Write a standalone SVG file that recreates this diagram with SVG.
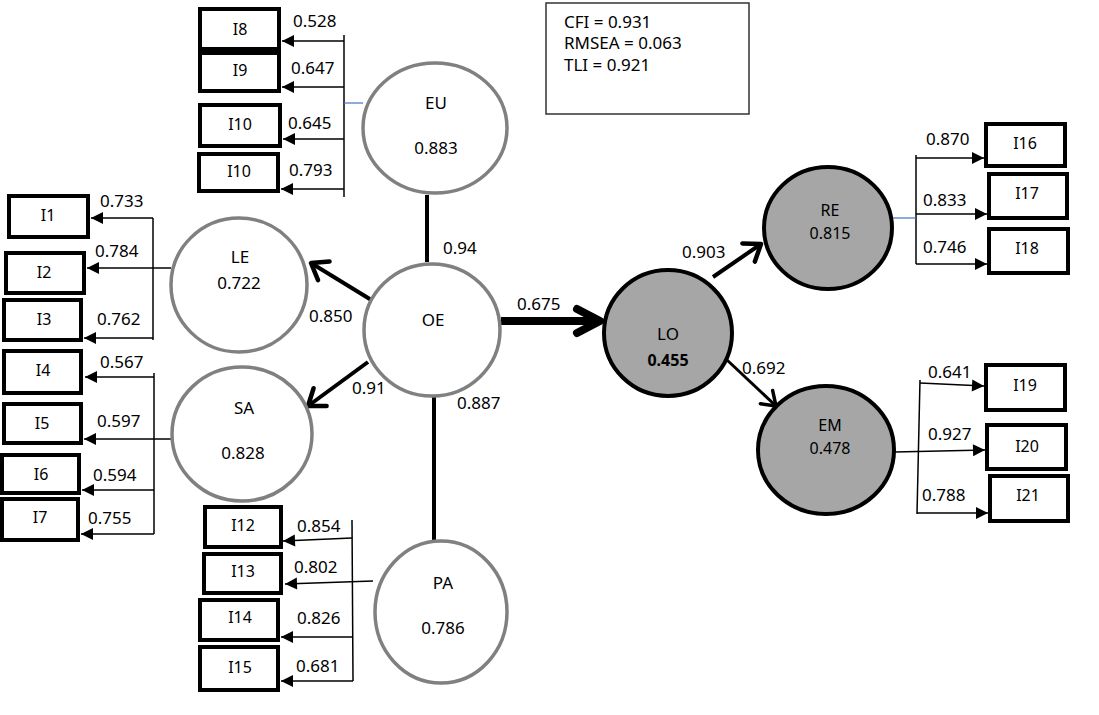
<svg xmlns="http://www.w3.org/2000/svg" width="1099" height="715" viewBox="0 0 1099 715">
<style>
text{font-family:"Noto Sans","Liberation Sans",sans-serif;fill:#000}
.lat{fill:#fff;stroke:#808080;stroke-width:3.5}
.end{fill:#a6a6a6;stroke:#000;stroke-width:4}
.ind{fill:#fff;stroke:#000;stroke-width:4}
.nl{font-size:17px;text-anchor:middle}
.ns{font-size:16px;text-anchor:middle}
.il{font-size:16px;text-anchor:middle}
.el{font-size:17px}
.fit{font-size:17px}
.ld{stroke:#000;stroke-width:1.5;fill:none;marker-end:url(#tri)}
.br{stroke:#000;stroke-width:1.5;fill:none}
.bl{stroke:#4472c4;stroke-width:1.2}
.st{stroke:#000;stroke-width:4;fill:none}
</style>
<defs>
<marker id="tri" markerUnits="userSpaceOnUse" markerWidth="13" markerHeight="12" refX="12" refY="6" orient="auto" overflow="visible">
<path d="M0,0 L12,6 L0,12 z" fill="#000"/>
</marker>
<marker id="chev" markerUnits="userSpaceOnUse" markerWidth="20" markerHeight="24" refX="0" refY="0" orient="auto" overflow="visible" viewBox="-20 -12 20 24">
<path d="M-15,-11 L0,0 L-15,11" fill="none" stroke="#000" stroke-width="4.5" stroke-linecap="round" stroke-linejoin="round"/>
</marker>
<marker id="chevS" markerUnits="userSpaceOnUse" markerWidth="20" markerHeight="24" refX="0" refY="0" orient="auto" overflow="visible" viewBox="-20 -12 20 24">
<path d="M-13,-9 L0,0 L-13,9" fill="none" stroke="#000" stroke-width="3.5" stroke-linecap="round" stroke-linejoin="round"/>
</marker>
<marker id="chevB" markerUnits="userSpaceOnUse" markerWidth="30" markerHeight="30" refX="0" refY="0" orient="auto" overflow="visible" viewBox="-30 -15 30 30">
<path d="M-23,-12 L0,0 L-23,12" fill="none" stroke="#000" stroke-width="8" stroke-linecap="round" stroke-linejoin="round"/>
</marker>
</defs>
<rect width="1099" height="715" fill="#fff"/>

<g id="connectors">
<line class="st" x1="427" y1="195" x2="427" y2="262"/>
<line class="st" x1="434" y1="397" x2="434" y2="541"/>
<line x1="501" y1="321" x2="600" y2="321" stroke="#000" stroke-width="8" marker-end="url(#chevB)"/>
<line class="st" x1="373" y1="301" x2="311" y2="263" marker-end="url(#chev)"/>
<line class="st" x1="368" y1="362" x2="308" y2="406" marker-end="url(#chev)"/>
<line class="st" x1="713" y1="277" x2="761" y2="244" marker-end="url(#chev)"/>
<line x1="727" y1="360" x2="776" y2="406" stroke="#000" stroke-width="3" marker-end="url(#chevS)"/>
<!-- EU indicators -->
<line class="br" x1="344" y1="35" x2="344" y2="197"/>
<line class="ld" x1="344" y1="41" x2="282" y2="41"/>
<line class="ld" x1="344" y1="87" x2="282" y2="87"/>
<line class="ld" x1="344" y1="139" x2="283" y2="139"/>
<line class="ld" x1="344" y1="189" x2="281" y2="189"/>
<line class="bl" x1="344" y1="103" x2="363" y2="103"/>
<!-- LE indicators -->
<line class="br" x1="153" y1="218" x2="153" y2="340"/>
<line class="ld" x1="153" y1="218" x2="91" y2="218"/>
<line class="ld" x1="171" y1="268" x2="87" y2="268"/>
<line class="ld" x1="153" y1="338" x2="84" y2="338"/>
<!-- SA indicators -->
<line class="br" x1="154" y1="373" x2="154" y2="534"/>
<line class="ld" x1="154" y1="377" x2="85" y2="377"/>
<line class="ld" x1="172" y1="439" x2="84" y2="439"/>
<line class="ld" x1="154" y1="490" x2="82" y2="490"/>
<line class="ld" x1="154" y1="534" x2="81" y2="534"/>
<!-- PA indicators -->
<line class="br" x1="352" y1="520" x2="353" y2="681"/>
<line class="ld" x1="352" y1="538" x2="283" y2="541"/>
<line class="ld" x1="373" y1="581" x2="285" y2="584"/>
<line class="ld" x1="353" y1="637" x2="281" y2="637"/>
<line class="ld" x1="353" y1="681" x2="281" y2="681"/>
<!-- RE indicators -->
<line class="br" x1="916" y1="155" x2="916" y2="264"/>
<line class="ld" x1="916" y1="158" x2="984" y2="158"/>
<line class="ld" x1="916" y1="214" x2="987" y2="214"/>
<line class="ld" x1="916" y1="264" x2="987" y2="264"/>
<line class="bl" x1="888" y1="218" x2="916" y2="218"/>
<!-- EM indicators -->
<line class="br" x1="920" y1="380" x2="917" y2="514"/>
<line class="ld" x1="920" y1="383" x2="984" y2="386"/>
<line class="ld" x1="895" y1="452" x2="985" y2="450"/>
<line class="ld" x1="917" y1="513" x2="988" y2="513"/>
</g>

<g id="edge-labels">
<text class="el" x="293" y="27">0.528</text>
<text class="el" x="291" y="74">0.647</text>
<text class="el" x="288" y="129">0.645</text>
<text class="el" x="289" y="176">0.793</text>
<text class="el" x="100" y="207">0.733</text>
<text class="el" x="95" y="257">0.784</text>
<text class="el" x="97" y="325">0.762</text>
<text class="el" x="100" y="368">0.567</text>
<text class="el" x="97" y="427">0.597</text>
<text class="el" x="93" y="481">0.594</text>
<text class="el" x="88" y="524">0.755</text>
<text class="el" x="297" y="532">0.854</text>
<text class="el" x="294" y="573">0.802</text>
<text class="el" x="297" y="624">0.826</text>
<text class="el" x="296" y="672">0.681</text>
<text class="el" x="926" y="145">0.870</text>
<text class="el" x="923" y="206">0.833</text>
<text class="el" x="923" y="253">0.746</text>
<text class="el" x="928" y="378">0.641</text>
<text class="el" x="928" y="440">0.927</text>
<text class="el" x="922" y="501">0.788</text>
<text class="el" x="443" y="254">0.94</text>
<text class="el" x="517" y="310">0.675</text>
<text class="el" x="309" y="322">0.850</text>
<text class="el" x="352" y="394">0.91</text>
<text class="el" x="457" y="409">0.887</text>
<text class="el" x="682" y="258">0.903</text>
<text class="el" x="742" y="374">0.692</text>
</g>

<g id="EU"><ellipse class="lat" cx="435" cy="128" rx="72" ry="65"/><text class="nl" x="436" y="109">EU</text><text class="nl" x="436" y="154">0.883</text></g>
<g id="OE"><ellipse class="lat" cx="432" cy="330" rx="68" ry="66"/><text class="nl" x="433" y="326">OE</text></g>
<g id="LE"><ellipse class="lat" cx="239" cy="285" rx="68" ry="67"/><text class="nl" x="240" y="263">LE</text><text class="nl" x="239" y="289">0.722</text></g>
<g id="SA"><ellipse class="lat" cx="242" cy="434" rx="70" ry="67"/><text class="nl" x="244" y="414">SA</text><text class="nl" x="243" y="459">0.828</text></g>
<g id="PA"><ellipse class="lat" cx="441" cy="612" rx="66" ry="71"/><text class="nl" x="443" y="589">PA</text><text class="nl" x="443" y="634">0.786</text></g>
<g id="LO"><ellipse class="end" cx="668" cy="333" rx="64" ry="63"/><text class="nl" x="668" y="340">LO</text><text class="nl" x="668" y="366" style="font-weight:bold;font-size:16px">0.455</text></g>
<g id="RE"><ellipse class="end" cx="828" cy="228" rx="64" ry="61"/><text class="ns" x="830" y="216">RE</text><text class="ns" x="830" y="239">0.815</text></g>
<g id="EM"><ellipse class="end" cx="826" cy="450" rx="68" ry="64"/><text class="ns" x="830" y="431">EM</text><text class="ns" x="830" y="454">0.478</text></g>

<g id="I8"><rect class="ind" x="200" y="9" width="79" height="40"/><text class="il" x="240" y="35">I8</text></g>
<g id="I9"><rect class="ind" x="200" y="53" width="79" height="38"/><text class="il" x="240" y="76">I9</text></g>
<g id="I10a"><rect class="ind" x="200" y="105" width="80" height="41"/><text class="il" x="240" y="130">I10</text></g>
<g id="I10b"><rect class="ind" x="199" y="154" width="79" height="37"/><text class="il" x="239" y="177">I10</text></g>
<g id="I1"><rect class="ind" x="9" y="196" width="79" height="41"/><text class="il" x="48" y="221">I1</text></g>
<g id="I2"><rect class="ind" x="6" y="253" width="78" height="40"/><text class="il" x="44" y="278">I2</text></g>
<g id="I3"><rect class="ind" x="4" y="300" width="77" height="40"/><text class="il" x="44" y="325">I3</text></g>
<g id="I4"><rect class="ind" x="4" y="351" width="77" height="42"/><text class="il" x="43" y="376">I4</text></g>
<g id="I5"><rect class="ind" x="4" y="404" width="77" height="39"/><text class="il" x="42" y="429">I5</text></g>
<g id="I6"><rect class="ind" x="2" y="455" width="77" height="38"/><text class="il" x="41" y="480">I6</text></g>
<g id="I7"><rect class="ind" x="2" y="499" width="76" height="41"/><text class="il" x="40" y="523">I7</text></g>
<g id="I12"><rect class="ind" x="205" y="507" width="76" height="40"/><text class="il" x="243" y="531">I12</text></g>
<g id="I13"><rect class="ind" x="204" y="554" width="77" height="39"/><text class="il" x="243" y="577">I13</text></g>
<g id="I14"><rect class="ind" x="200" y="600" width="78" height="40"/><text class="il" x="240" y="623">I14</text></g>
<g id="I15"><rect class="ind" x="200" y="647" width="78" height="43"/><text class="il" x="240" y="673">I15</text></g>
<g id="I16"><rect class="ind" x="986" y="124" width="79" height="42"/><text class="il" x="1025" y="149">I16</text></g>
<g id="I17"><rect class="ind" x="989" y="174" width="78" height="44"/><text class="il" x="1027" y="199">I17</text></g>
<g id="I18"><rect class="ind" x="989" y="229" width="79" height="44"/><text class="il" x="1027" y="254">I18</text></g>
<g id="I19"><rect class="ind" x="986" y="365" width="79" height="45"/><text class="il" x="1025" y="391">I19</text></g>
<g id="I20"><rect class="ind" x="987" y="425" width="79" height="44"/><text class="il" x="1027" y="452">I20</text></g>
<g id="I21"><rect class="ind" x="990" y="476" width="78" height="45"/><text class="il" x="1028" y="501">I21</text></g>

<g id="fit">
<rect x="546" y="3" width="203" height="111" fill="#fff" stroke="#333" stroke-width="1.5"/>
<text class="fit" x="564" y="28">CFI = 0.931</text>
<text class="fit" x="564" y="49">RMSEA = 0.063</text>
<text class="fit" x="564" y="71">TLI = 0.921</text>
</g>
</svg>
